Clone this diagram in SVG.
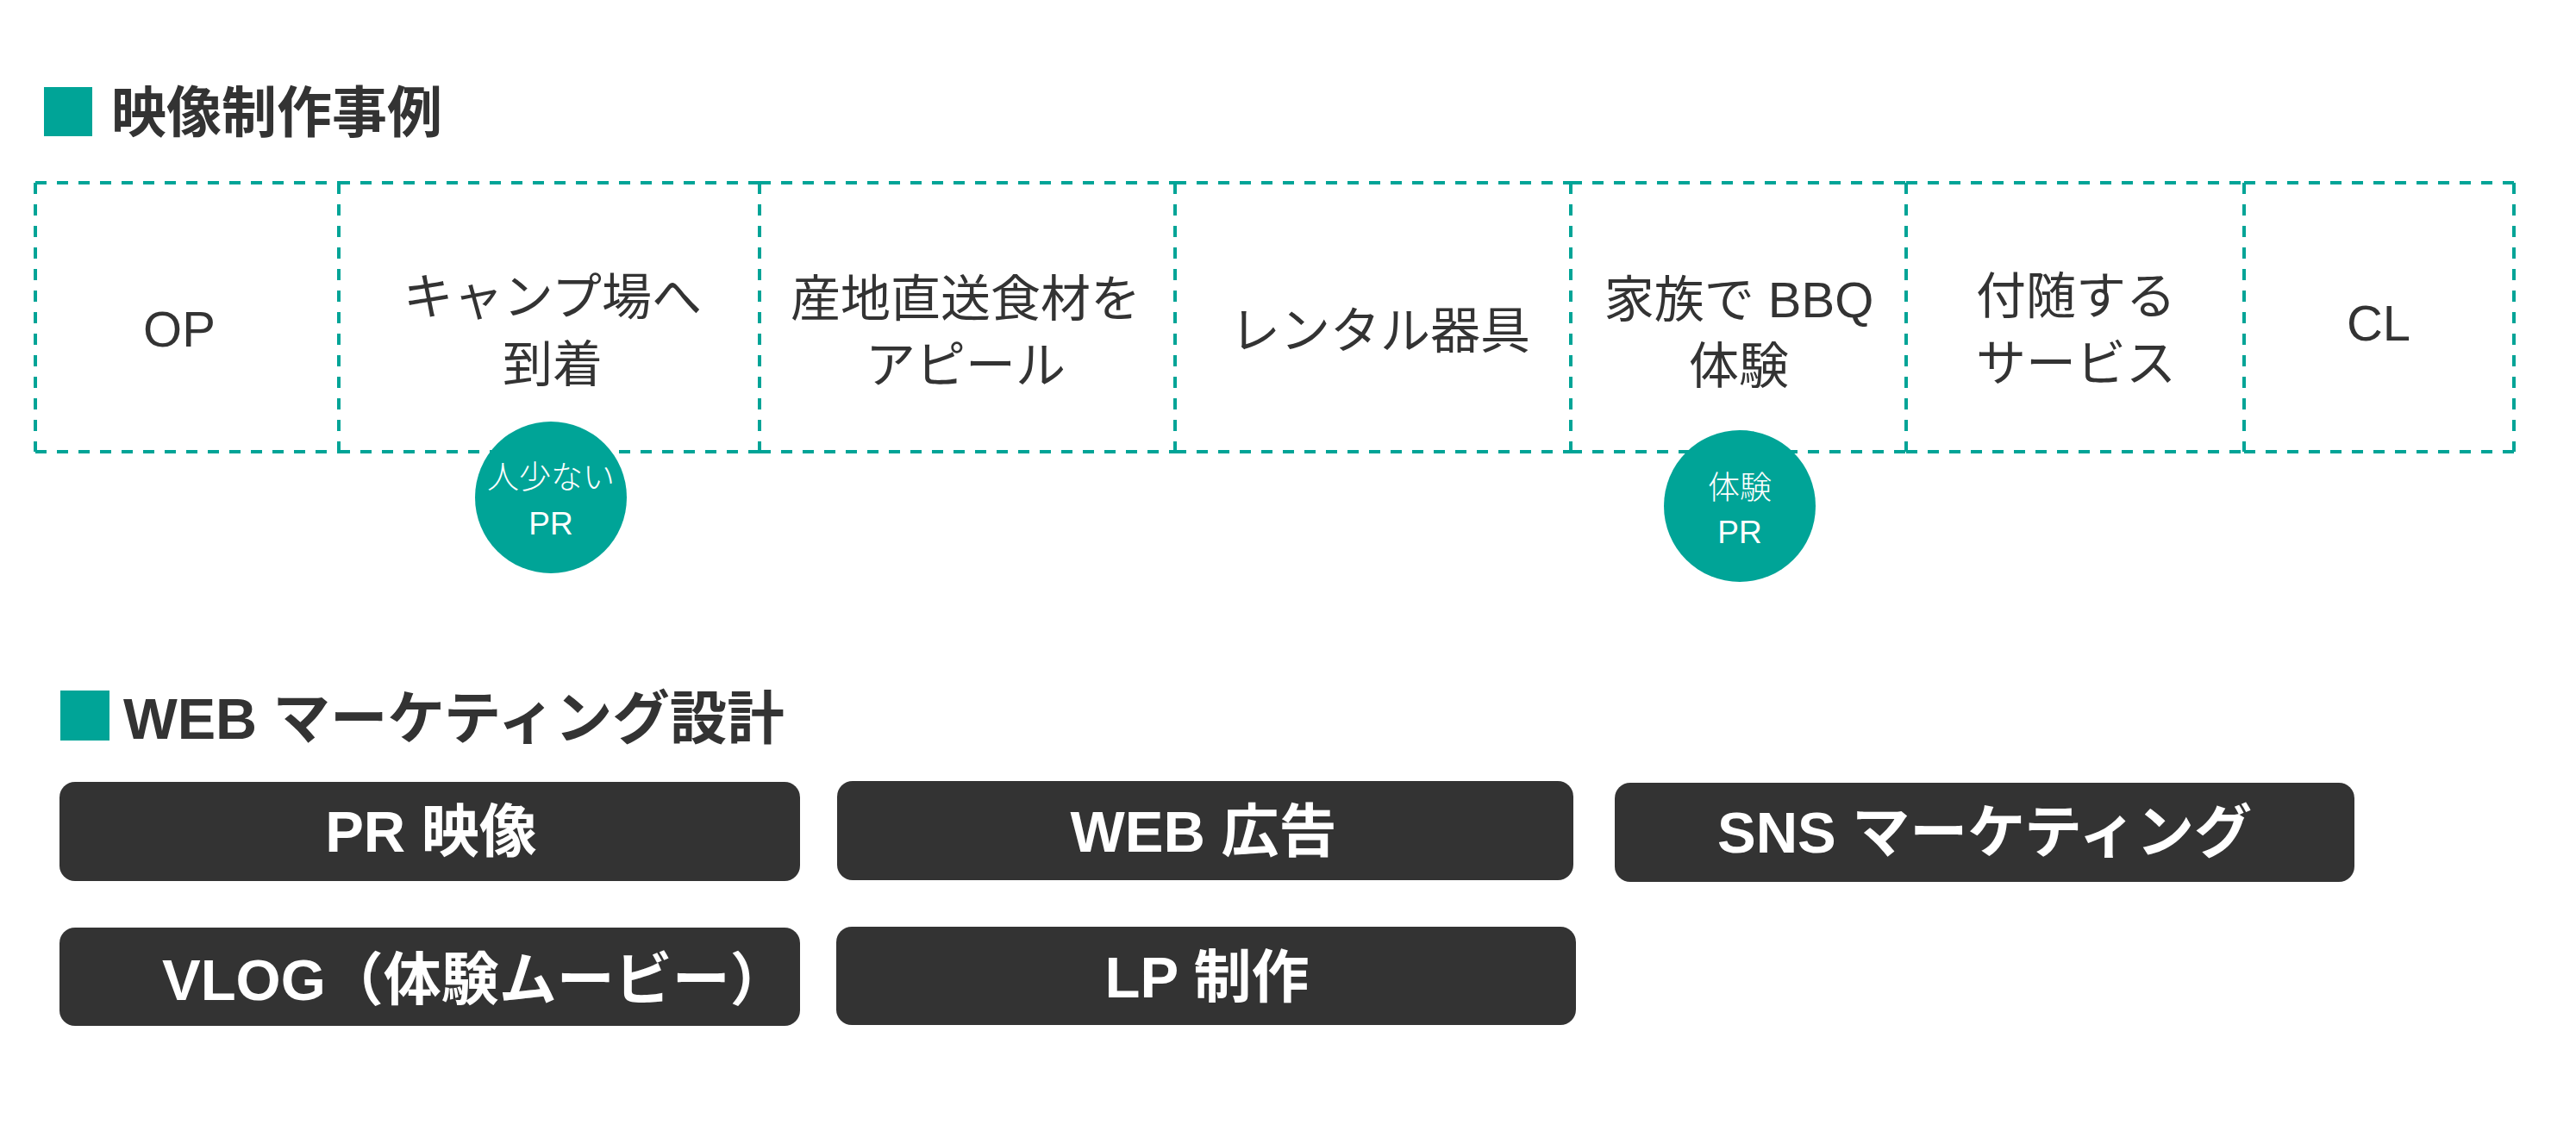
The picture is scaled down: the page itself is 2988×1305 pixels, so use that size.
<svg xmlns="http://www.w3.org/2000/svg" width="2988" height="1305" viewBox="0 0 2988 1305">
<style>
.h{font-family:"Liberation Sans","Noto Sans CJK JP",sans-serif;font-weight:700;font-size:64px;fill:#333}
.cell{fill:none;stroke:#00A497;stroke-width:4;stroke-dasharray:13 12}
.t{font-family:"Liberation Sans","Noto Sans CJK JP",sans-serif;font-size:58px;fill:#333;text-anchor:middle}
.bub{fill:#00A497}
.bt{font-family:"Liberation Sans","Noto Sans CJK JP",sans-serif;font-weight:300;font-size:37px;fill:#fff;text-anchor:middle}
.btn{fill:#333}
.bl{font-family:"Liberation Sans","Noto Sans CJK JP",sans-serif;font-weight:700;font-size:67px;fill:#fff;text-anchor:middle}
</style>
<rect width="2988" height="1305" fill="#fff"/>
<g id="heading1">
<rect x="51" y="101" width="56" height="57" fill="#00A497"/>
<text class="h" x="129" y="153">映像制作事例</text>
</g>
<g id="cell-op">
<path class="cell" d="M41 212H393M41 524H393M41 212V524"/>
<text class="t" x="208" y="402">OP</text>
</g>
<g id="cell-arrival">
<path class="cell" d="M393 212H881M393 524H881M393 212V524"/>
<text class="t" x="641" y="365">キャンプ場へ</text>
<text class="t" x="641" y="443">到着</text>
</g>
<g id="cell-food">
<path class="cell" d="M881 212H1363M881 524H1363M881 212V524"/>
<text class="t" x="1120" y="367">産地直送食材を</text>
<text class="t" x="1120" y="444">アピール</text>
</g>
<g id="cell-rental">
<path class="cell" d="M1363 212H1822M1363 524H1822M1363 212V524"/>
<text class="t" x="1601" y="404">レンタル器具</text>
</g>
<g id="cell-bbq">
<path class="cell" d="M1822 212H2211M1822 524H2211M1822 212V524"/>
<text class="t" x="2017" y="368">家族で BBQ</text>
<text class="t" x="2017" y="445">体験</text>
</g>
<g id="cell-service">
<path class="cell" d="M2211 212H2603M2211 524H2603M2211 212V524"/>
<text class="t" x="2408" y="364">付随する</text>
<text class="t" x="2408" y="442">サービス</text>
</g>
<g id="cell-cl">
<path class="cell" d="M2603 212H2916M2603 524H2916M2603 212V524M2916 212V524"/>
<text class="t" x="2759" y="395">CL</text>
</g>
<g id="bubble-few-people">
<circle class="bub" cx="639" cy="577" r="88"/>
<text class="bt" x="639" y="567">人少ない</text>
<text class="bt" x="639" y="620">PR</text>
</g>
<g id="bubble-experience">
<circle class="bub" cx="2018" cy="587" r="88"/>
<text class="bt" x="2018" y="579">体験</text>
<text class="bt" x="2018" y="630">PR</text>
</g>
<g id="heading2">
<rect x="70" y="801" width="57" height="58" fill="#00A497"/>
<text class="h" x="143" y="857" style="font-size:66.5px">WEB マーケティング設計</text>
</g>
<g id="btn-pr">
<rect class="btn" x="69" y="907" width="859" height="115" rx="18"/>
<text class="bl" x="500" y="988">PR 映像</text>
</g>
<g id="btn-web-ad">
<rect class="btn" x="971" y="906" width="854" height="115" rx="18"/>
<text class="bl" x="1396" y="988">WEB 広告</text>
</g>
<g id="btn-sns">
<rect class="btn" x="1873" y="908" width="858" height="115" rx="18"/>
<text class="bl" x="2302" y="989">SNS マーケティング</text>
</g>
<g id="btn-vlog">
<rect class="btn" x="69" y="1076" width="859" height="114" rx="18"/>
<text class="bl" x="188" y="1160" style="text-anchor:start">VLOG（体験ムービー）</text>
</g>
<g id="btn-lp">
<rect class="btn" x="970" y="1075" width="858" height="114" rx="18"/>
<text class="bl" x="1400" y="1157">LP 制作</text>
</g>
<g id="connectors"/>
</svg>
